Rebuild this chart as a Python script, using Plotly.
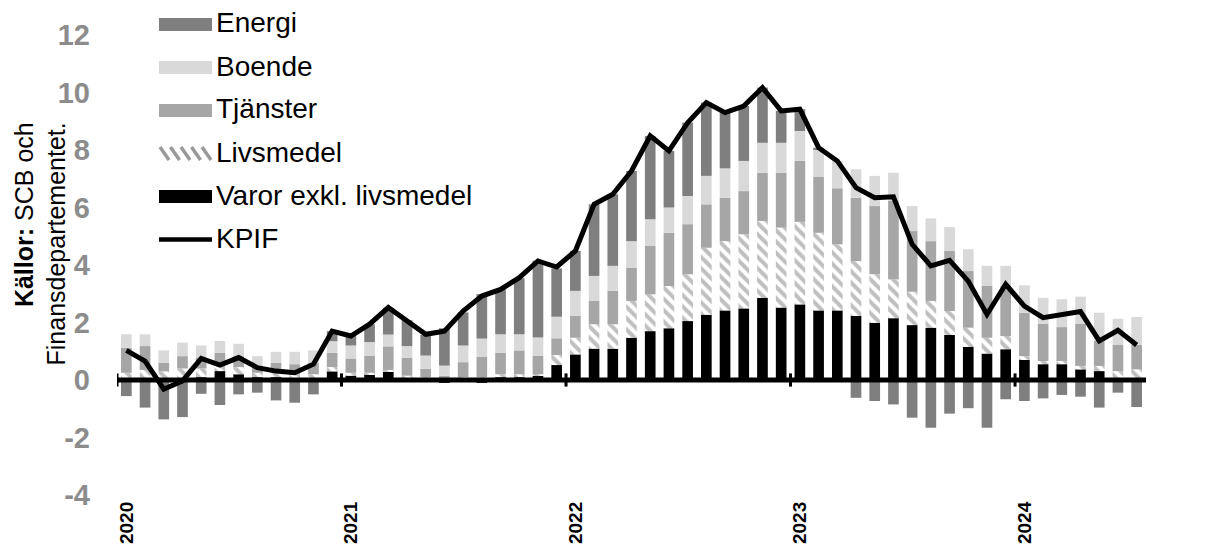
import plotly.graph_objects as go

# ---------------- data ----------------
months = [f"{2020 + (m // 12)}-{(m % 12) + 1:02d}" for m in range(1, 56)]  # 2020-02 .. 2024-08
year_labels = ["2020", "2021", "2022", "2023", "2024"]

varor = [0.05, 0.05, 0.02, 0.05, 0.10, 0.31, 0.20, 0.10, 0.10, 0.05, 0.05, 0.30,
         0.15, 0.20, 0.30, 0.10, 0.05, -0.10, 0.05, -0.10, 0.10, 0.10, 0.15, 0.52,
         0.89, 1.09, 1.09, 1.47, 1.70, 1.80, 2.05, 2.27, 2.42, 2.49, 2.86, 2.52,
         2.63, 2.42, 2.42, 2.23, 1.99, 2.15, 1.91, 1.82, 1.57, 1.15, 0.92, 1.07,
         0.70, 0.55, 0.55, 0.37, 0.31, 0.05, 0.05]
livsmedel = [0.20, 0.30, 0.28, 0.35, 0.30, 0.20, 0.25, 0.15, 0.15, 0.15, 0.15, 0.15,
             0.10, 0.05, 0.05, 0.05, 0.05, 0.05, 0.05, 0.10, 0.10, 0.10, 0.05, 0.35,
             0.58, 0.85, 0.85, 1.28, 1.28, 1.47, 1.63, 2.33, 2.41, 2.58, 2.67, 2.78,
             2.87, 2.70, 2.30, 1.91, 1.69, 1.35, 1.16, 0.93, 0.83, 0.67, 0.55, 0.46,
             0.13, 0.11, 0.11, 0.12, 0.18, 0.26, 0.32]
tjanster = [0.87, 0.83, 0.30, 0.43, 0.38, 0.44, 0.38, 0.24, 0.35, 0.35, 0.40, 0.50,
            0.50, 0.60, 0.82, 0.62, 0.29, 0.10, 0.52, 0.70, 0.75, 0.83, 0.64, 0.58,
            0.76, 0.81, 1.16, 1.15, 1.68, 1.85, 1.74, 1.51, 1.51, 1.50, 1.68, 1.91,
            2.12, 1.94, 1.95, 2.20, 2.37, 2.73, 2.11, 2.08, 2.09, 1.97, 1.80, 1.74,
            1.51, 1.30, 1.18, 1.47, 0.87, 0.91, 0.85]
boende = [0.47, 0.41, 0.43, 0.47, 0.42, 0.41, 0.43, 0.34, 0.38, 0.43, 0.43, 0.40,
          0.45, 0.47, 0.41, 0.41, 0.46, 0.35, 0.58, 0.64, 0.64, 0.56, 0.64, 0.75,
          0.87, 0.87, 0.87, 0.93, 0.93, 0.88, 0.98, 0.99, 1.02, 1.05, 1.04, 1.04,
          1.04, 0.97, 0.95, 0.99, 1.05, 0.98, 0.87, 0.79, 0.83, 0.76, 0.70, 0.70,
          0.95, 0.90, 0.97, 0.94, 0.98, 0.91, 0.97]
energi = [-0.56, -0.96, -1.37, -1.29, -0.48, -0.87, -0.50, -0.44, -0.71, -0.79, -0.50, 0.35,
          0.33, 0.62, 0.93, 0.90, 0.72, 1.30, 1.15, 1.55, 1.57, 1.95, 2.67, 1.68,
          1.39, 2.49, 2.49, 2.44, 2.90, 1.97, 2.55, 2.55, 1.94, 1.91, 1.92, 1.11,
          0.76, 0.05, 0.00, -0.62, -0.73, -0.85, -1.31, -1.66, -1.17, -0.98, -1.66, -0.67,
          -0.73, -0.64, -0.52, -0.58, -0.96, -0.44, -0.94]
kpif = [1.03, 0.66, -0.32, -0.03, 0.75, 0.52, 0.78, 0.43, 0.31, 0.25, 0.55, 1.70,
        1.53, 1.94, 2.52, 2.05, 1.59, 1.70, 2.40, 2.92, 3.15, 3.56, 4.14, 3.93,
        4.49, 6.11, 6.46, 7.27, 8.49, 7.97, 8.95, 9.65, 9.30, 9.53, 10.17, 9.36,
        9.42, 8.08, 7.62, 6.69, 6.34, 6.37, 4.72, 3.97, 4.16, 3.44, 2.28, 3.33,
        2.57, 2.17, 2.28, 2.38, 1.36, 1.73, 1.22]

y_tick_vals = [12, 10, 8, 6, 4, 2, 0, -2, -4]
y_tick_text = ["12", "10", "8", "6", "4", "2", "0", "-2", "-4"]

# ---------------- styling ----------------
C_ENERGI = "#7f7f7f"
C_BOENDE = "#d9d9d9"
C_TJANST = "#a6a6a6"
C_HATCH = "#808080"
C_VAROR = "#000000"
FONT = "Liberation Sans, Arial, sans-serif"

x = list(range(len(months)))
year_idx = list(range(0, len(months), 12))
year_bounds = [i - 0.5 for i in year_idx]
xrange = [-0.5, len(months) - 0.5]

fig = go.Figure()
fig.add_bar(x=x, y=varor, name="Varor exkl. livsmedel",
            marker=dict(color=C_VAROR, line=dict(width=0)))
fig.add_bar(x=x, y=livsmedel, name="Livsmedel",
            marker=dict(color="white", line=dict(width=0),
                        pattern=dict(shape="\\", fgcolor=C_HATCH, bgcolor="white",
                                     size=8, solidity=0.5)))
fig.add_bar(x=x, y=tjanster, name="Tjänster",
            marker=dict(color=C_TJANST, line=dict(width=0)))
fig.add_bar(x=x, y=boende, name="Boende",
            marker=dict(color=C_BOENDE, line=dict(width=0)))
fig.add_bar(x=x, y=energi, name="Energi",
            marker=dict(color=C_ENERGI, line=dict(width=0)))
fig.add_scatter(x=x, y=kpif, mode="lines", name="KPIF",
                line=dict(color="black", width=5))

# page body has an 8px margin: figure is placed at (8, 8) in the window
OFF = 8
W, H = 1229 - OFF, 555 - OFF
PL, PR, PT, PB = 117, 1146, 35, 495          # plot box in window pixels
L, R = PL - OFF, W - (PR - OFF)
T, B = PT - OFF, H - (PB - OFF)
PW, PH = PR - PL, PB - PT


def px(xp):
    return (xp - PL) / PW


def py(yp):
    return (PB - yp) / PH


# custom legend (wide swatches like the original)
legend_items = [("Energi", C_ENERGI, "rect"), ("Boende", C_BOENDE, "rect"),
                ("Tjänster", C_TJANST, "rect"), ("Livsmedel", "#999999", "hatch"),
                ("Varor exkl. livsmedel", C_VAROR, "rect"), ("KPIF", "#000000", "line")]
shapes = []
annotations = []
for k, (label, col, kind) in enumerate(legend_items):
    cy = 24.5 + 43 * k
    if kind == "rect":
        shapes.append(dict(type="rect", xref="paper", yref="paper",
                           x0=px(159), x1=px(212), y0=py(cy + 6.5), y1=py(cy - 6.5),
                           fillcolor=col, line=dict(width=0)))
    elif kind == "hatch":
        for j in range(5):
            xs = 160 + 10.5 * j
            shapes.append(dict(type="line", xref="paper", yref="paper",
                               x0=px(xs), x1=px(xs + 9), y0=py(cy - 6.5), y1=py(cy + 6.5),
                               line=dict(color=col, width=3.5)))
    else:
        shapes.append(dict(type="line", xref="paper", yref="paper",
                           x0=px(159), x1=px(212), y0=py(cy), y1=py(cy),
                           line=dict(color=col, width=4.5)))
    annotations.append(dict(text=label, xref="paper", yref="paper",
                            x=px(214), y=py(cy - 1.5), xanchor="left", yanchor="middle",
                            showarrow=False, font=dict(size=28, color="black", family=FONT)))

annotations.append(dict(text="<b>Källor:</b> SCB och<br>Finansdepartementet.",
                        xref="paper", yref="paper", x=px(40), y=py(121),
                        xanchor="center", yanchor="top", align="right",
                        textangle=-90, showarrow=False,
                        font=dict(size=25, color="black", family=FONT)))

# zero line with year-boundary tick marks crossing it (drawn above the bars)
shapes.append(dict(type="line", xref="paper", yref="y", x0=0, x1=1, y0=0, y1=0,
                   line=dict(color="black", width=5), layer="above"))
for b in year_bounds:
    shapes.append(dict(type="line", xref="x", yref="y", x0=b, x1=b, y0=-0.23, y1=0.23,
                       line=dict(color="black", width=3), layer="above"))

fig.update_layout(
    width=W, height=H,
    margin=dict(l=L, r=R, t=T, b=B, pad=0, autoexpand=False),
    paper_bgcolor="white", plot_bgcolor="white",
    barmode="relative", bargap=0.43,
    showlegend=False,
    font=dict(family=FONT),
    shapes=shapes, annotations=annotations,
    xaxis=dict(range=xrange, tickmode="array", tickvals=year_idx, ticktext=year_labels,
               tickangle=-90, tickfont=dict(size=19, color="black", family=FONT, weight="bold"),
               showline=False, showgrid=False, zeroline=False, ticks="",
               ticklabelstandoff=2, automargin=False),
    yaxis=dict(range=[-4, 12], tickmode="array", tickvals=y_tick_vals, ticktext=y_tick_text,
               tickfont=dict(size=29, color="#8c8c8c", family=FONT, weight="bold"),
               showgrid=False, zeroline=False, showline=False, ticks="",
               ticklabelstandoff=26, automargin=False),
)

fig.write_html("out.html")
